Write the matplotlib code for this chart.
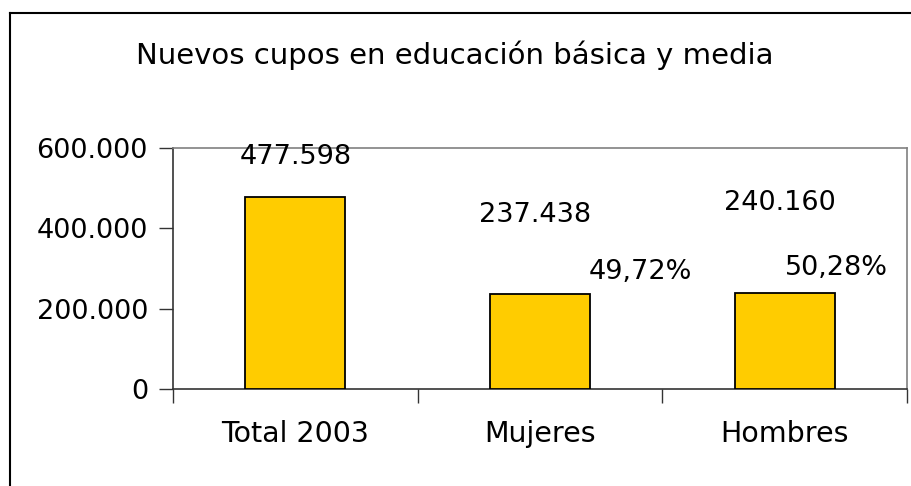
import matplotlib
matplotlib.use("Agg")
import matplotlib.pyplot as plt
import numpy as np
from matplotlib.lines import Line2D

# datos
categorias = ["Total 2003", "Mujeres", "Hombres"]
valores = [477598, 237438, 240160]
etiquetas_valor = ["477.598", "237.438", "240.160"]
etiquetas_pct = ["", "49,72%", "50,28%"]
ticks_y = [0, 200000, 400000, 600000]
ticks_y_txt = ["0", "200.000", "400.000", "600.000"]

plt.rcParams["font.family"] = ["DejaVu Sans"]
fs = 19.5

fig = plt.figure(figsize=(9.11, 4.86), dpi=100)
ax = fig.add_axes([173 / 911, 1 - 389 / 486, (907 - 173) / 911, (389 - 148) / 486])

x = np.arange(len(categorias))
ax.bar(x, valores, width=0.41, color="#FFCC00", edgecolor="black", linewidth=1.3, zorder=3)

ax.set_xlim(-0.5, 2.5)
ax.set_ylim(0, 600000)
ax.set_yticks(ticks_y)
ax.set_yticklabels(ticks_y_txt, fontsize=fs)
ax.tick_params(axis="y", direction="out", length=10, width=1, pad=8, color="#333333")

ax.set_xticks(x)
ax.set_xticklabels(categorias, fontsize=20.5)
ax.set_xticks(np.arange(-0.5, 2.6, 1), minor=True)
ax.tick_params(axis="x", which="major", length=0, pad=22)
ax.tick_params(axis="x", which="minor", direction="out", length=10, width=1, color="#333333")

for s in ["top", "right"]:
    ax.spines[s].set_color("#808080")
    ax.spines[s].set_linewidth(1.2)
for s in ["left", "bottom"]:
    ax.spines[s].set_color("#333333")
    ax.spines[s].set_linewidth(1.2)

# etiquetas de valor (posiciones como en el original)
pos_valor = [(0.0, 577000), (-0.02, 433000), (-0.02, 463000)]
for i, ((px, py), t) in enumerate(zip(pos_valor, etiquetas_valor)):
    ax.text(i + px, py, t, ha="center", va="center", fontsize=fs, zorder=4)

pos_pct = [(0, 0), (0.41, 291000), (0.21, 301000)]
for i, ((px, py), t) in enumerate(zip(pos_pct, etiquetas_pct)):
    if t:
        ax.text(i + px, py, t, ha="center", va="center", fontsize=fs, zorder=4)

fig.text(455 / 911, 1 - 55 / 486, "Nuevos cupos en educación básica y media",
         ha="center", va="center", fontsize=21)

# marco exterior (solo izquierda y arriba visibles)
fig.add_artist(Line2D([10 / 911, 10 / 911], [0, 1 - 13 / 486], transform=fig.transFigure,
                      color="black", linewidth=1.5))
fig.add_artist(Line2D([10 / 911, 1], [1 - 13 / 486, 1 - 13 / 486], transform=fig.transFigure,
                      color="black", linewidth=1.5))

fig.savefig("out.png", dpi=100)
